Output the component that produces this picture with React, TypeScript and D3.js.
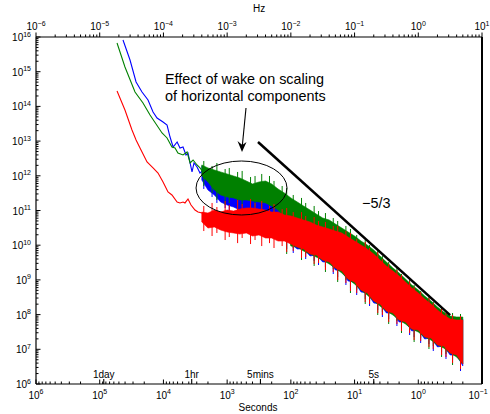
import React from 'react';
import * as d3 from 'd3';

// ---------- data (Hz, spectral power) ----------
// low-frequency part of each spectrum (read point by point)
const blueLowHz = [2.32e-5, 2.99e-5, 3.72e-5, 4.61e-5, 5.73e-5, 6.87e-5, 7.94e-5, 9.86e-5, 1.14e-4, 1.27e-4, 1.42e-4, 1.64e-4, 1.82e-4, 2.03e-4, 2.26e-4, 2.43e-4, 2.81e-4, 3.02e-4, 3.37e-4, 3.75e-4, 4.19e-4, 4.67e-4];
const blueLowVal = [8.2e15, 2.17e15, 5.05e14, 2.6e14, 1.53e14, 6.9e13, 4.63e13, 3.55e13, 2.91e13, 1.31e13, 6.76e12, 9.42e12, 6.33e12, 6.76e12, 3.98e12, 4.54e12, 1.29e12, 2.34e12, 1.79e12, 1.2e12, 1.47e12, 9.24e11];

const greenLowHz = [1.87e-5, 2.49e-5, 3.58e-5, 4.78e-5, 6.16e-5, 9.51e-5, 1.14e-4, 1.36e-4, 1.52e-4, 1.69e-4, 2.03e-4, 2.35e-4, 2.62e-4, 2.92e-4, 3.37e-4, 3.75e-4, 4.19e-4];
const greenLowVal = [6.71e15, 1.37e15, 2.6e14, 1.25e14, 5.65e13, 1.71e13, 1.23e13, 6.76e12, 6.33e12, 4.54e12, 3.98e12, 4.85e12, 2.34e12, 2.85e12, 2.05e12, 1.68e12, 1.29e12];

const redLowHz = [1.87e-5, 2.49e-5, 3.21e-5, 3.72e-5, 4.29e-5, 5.53e-5, 6.87e-5, 8.23e-5, 9.86e-5, 1.18e-4, 1.36e-4, 1.64e-4, 1.82e-4, 2.03e-4, 2.18e-4, 2.43e-4, 2.71e-4, 3.13e-4, 3.49e-4, 4.04e-4, 4.5e-4];
const redLowVal = [2.78e14, 7.88e13, 2.09e13, 1.08e13, 6.33e12, 2.5e12, 1.68e12, 1.2e12, 6.63e11, 3.41e11, 2.8e11, 1.76e11, 1.65e11, 1.76e11, 1.65e11, 2.15e11, 1.44e11, 1.03e11, 9.06e10, 8.48e10, 7.42e10];

// dense high-frequency part: upper / lower envelope of the scatter
const bandHz = [4.0e-4, 5.0e-4, 6.3e-4, 7.9e-4, 1.0e-3, 1.26e-3, 1.58e-3, 2.0e-3, 2.5e-3, 3.16e-3, 4.0e-3, 5.0e-3, 6.3e-3, 7.9e-3, 0.01, 0.0126, 0.0158, 0.02, 0.025, 0.0316, 0.04, 0.05, 0.063, 0.079, 0.1, 0.126, 0.158, 0.2, 0.25, 0.316, 0.4, 0.5, 0.63, 0.79, 1.0, 1.26, 1.58, 2.0, 2.5, 3.16, 4.0, 5.0];

const blueHi = [1.92e12, 1.47e12, 1.21e12, 1.055e12, 8.64e11, 7.57e11, 6.63e11, 5.81e11, 5.08e11, 5.08e11, 5.08e11, 4.45e11, 3.41e11, 2.62e11, 2.01e11, 1.54e11, 1.18e11, 9.0e10, 6.95e10, 5.69e10, 4.66e10, 3.58e10, 2.74e10, 2.1e10, 1.61e10, 1.15e10, 8.85e9, 6.38e9, 4.28e9, 2.87e9, 1.93e9, 1.38e9, 9.28e8, 6.24e8, 4.49e8, 3.01e8, 2.16e8, 1.45e8, 1.04e8, 7.98e7, 7.46e7, 7.46e7];
const blueLo = [7.57e11, 3.9e11, 2.8e11, 1.76e11, 1.44e11, 1.26e11, 1.03e11, 9.0e10, 8.45e10, 9.0e10, 7.94e10, 7.42e10, 7.94e10, 5.32e10, 1.08e10, 7.78e9, 7.78e9, 4.89e9, 5.22e9, 3.28e9, 3.28e9, 1.93e9, 1.81e9, 9.28e8, 8.7e8, 4.49e8, 4.19e8, 2.16e8, 2.02e8, 1.11e8, 1.11e8, 6.11e7, 6.11e7, 3.37e7, 3.6e7, 1.98e7, 2.12e7, 1.17e7, 1.24e7, 6.85e6, 6.85e6, 3.3e6];

const greenHi = [2.05e12, 1.68e12, 1.47e12, 1.29e12, 1.13e12, 9.87e11, 8.64e11, 7.09e11, 5.81e11, 6.63e11, 7.09e11, 5.81e11, 4.17e11, 3.2e11, 2.3e11, 1.76e11, 1.35e11, 1.03e11, 7.94e10, 6.08e10, 5.32e10, 4.08e10, 3.13e10, 2.4e10, 1.84e10, 1.32e10, 1.01e10, 7.28e9, 4.89e9, 3.28e9, 2.2e9, 1.58e9, 1.06e9, 7.13e8, 5.12e8, 3.44e8, 2.47e8, 1.66e8, 1.19e8, 9.11e7, 8.52e7, 8.52e7];
const greenLo = [9.87e11, 6.63e11, 3.9e11, 2.8e11, 2.45e11, 2.3e11, 2.01e11, 2.01e11, 1.88e11, 1.76e11, 1.65e11, 1.35e11, 1.03e11, 6.08e10, 9.45e9, 8.85e9, 6.81e9, 5.58e9, 4.57e9, 3.74e9, 2.87e9, 2.2e9, 1.58e9, 1.06e9, 7.62e8, 5.12e8, 3.67e8, 2.47e8, 1.77e8, 1.27e8, 9.73e7, 6.98e7, 5.36e7, 3.85e7, 3.15e7, 2.26e7, 1.85e7, 1.33e7, 1.09e7, 7.83e6, 6.0e6, 3.77e6];

const redHi = [9.0e10, 8.45e10, 1.03e11, 9.0e10, 1.03e11, 9.64e10, 1.1e11, 1.18e11, 1.18e11, 1.1e11, 1.03e11, 9.0e10, 9.0e10, 7.42e10, 6.95e10, 6.08e10, 5.32e10, 4.66e10, 3.82e10, 3.35e10, 2.93e10, 2.56e10, 2.25e10, 1.72e10, 1.32e10, 1.01e10, 7.78e9, 5.58e9, 3.74e9, 2.52e9, 1.81e9, 1.29e9, 8.7e8, 5.85e8, 4.19e8, 2.82e8, 2.02e8, 1.36e8, 9.73e7, 7.46e7, 6.98e7, 6.98e7];
const redLo = [4.66e10, 3.13e10, 3.35e10, 2.74e10, 2.4e10, 2.25e10, 2.1e10, 2.25e10, 1.84e10, 1.97e10, 1.61e10, 1.61e10, 1.32e10, 1.32e10, 1.08e10, 8.85e9, 7.78e9, 5.58e9, 5.22e9, 3.74e9, 3.28e9, 2.2e9, 1.81e9, 1.06e9, 8.7e8, 5.12e8, 4.19e8, 2.47e8, 2.02e8, 1.27e8, 1.11e8, 6.98e7, 6.11e7, 3.85e7, 3.6e7, 2.26e7, 2.12e7, 1.33e7, 1.24e7, 7.83e6, 6.85e6, 3.77e6];

// individual spikes sticking out of the dense band (frequency, tip values)
const spikeHz = [4.3e-4, 5.8e-4, 6.9e-4, 9.3e-4, 1.08e-3, 1.46e-3, 1.72e-3, 2.33e-3, 2.74e-3, 3.49e-3, 4.62e-3, 5.44e-3, 7.3e-3, 8.6e-3, 0.0109, 0.0147, 0.0171, 0.0232, 0.0272, 0.0349, 0.0463, 0.0543, 0.0731, 0.0862, 0.108, 0.147, 0.172, 0.231, 0.273, 0.343, 0.462, 0.545, 0.731, 0.86, 1.09, 1.47, 1.72, 2.32, 2.72, 3.45, 4.6];
const blueDownTip = [4.17e11, 2.45e11, 1.65e11, 1.18e11, 1.03e11, 8.45e10, 7.42e10, 6.95e10, 6.5e10, 6.5e10, 6.08e10, 5.69e10, 4.66e10, 7.78e9, 5.97e9, 5.22e9, 4.0e9, 3.5e9, 2.69e9, 2.36e9, 1.48e9, 1.21e9, 7.13e8, 5.85e8, 3.67e8, 2.82e8, 1.77e8, 1.36e8, 8.52e7, 7.46e7, 4.69e7, 4.1e7, 2.58e7, 2.26e7, 1.52e7, 1.42e7, 8.94e6, 8.36e6, 5.26e6, 4.92e6, 2.37e6];
const greenUpTip = [2.67e12, 1.92e12, 2.34e12, 1.57e12, 1.68e12, 1.29e12, 1.38e12, 9.24e11, 9.87e11, 1.13e12, 9.87e11, 7.09e11, 5.08e11, 4.45e11, 2.8e11, 2.3e11, 1.65e11, 1.35e11, 9.64e10, 8.45e10, 6.08e10, 4.98e10, 3.58e10, 2.93e10, 1.97e10, 1.41e10, 1.01e10, 6.81e9, 4.89e9, 3.28e9, 2.2e9, 1.48e9, 1.06e9, 7.13e8, 4.79e8, 3.21e8, 2.3e8, 1.55e8, 1.11e8, 1.11e8, 1.04e8];
const greenDownTip = [5.08e11, 3.2e11, 2.01e11, 1.44e11, 1.65e11, 1.18e11, 1.35e11, 1.1e11, 1.26e11, 1.03e11, 1.1e11, 9.0e10, 6.95e10, 5.58e9, 8.31e9, 3.74e9, 5.58e9, 2.52e9, 3.74e9, 1.69e9, 2.06e9, 8.7e8, 9.93e8, 4.19e8, 5.12e8, 2.02e8, 2.47e8, 9.73e7, 1.19e8, 5.36e7, 6.53e7, 2.95e7, 3.6e7, 1.62e7, 2.12e7, 1.02e7, 1.24e7, 6.0e6, 7.32e6, 3.53e6, 3.3e6];
const redUpTip = [1.35e11, 1.65e11, 1.26e11, 1.88e11, 1.44e11, 2.01e11, 1.54e11, 2.15e11, 1.65e11, 1.88e11, 1.35e11, 1.54e11, 1.1e11, 1.18e11, 9.0e10, 9.0e10, 6.95e10, 6.5e10, 4.98e10, 4.66e10, 3.58e10, 3.58e10, 2.56e10, 2.25e10, 1.51e10, 1.24e10, 8.31e9, 6.38e9, 4.0e9, 2.87e9, 1.93e9, 1.38e9, 9.28e8, 6.24e8, 4.49e8, 3.01e8, 2.16e8, 1.45e8, 1.11e8, 9.73e7, 9.11e7];
const redDownTip = [2.56e10, 1.84e10, 2.25e10, 1.41e10, 1.72e10, 1.15e10, 1.61e10, 1.08e10, 1.41e10, 9.45e9, 1.15e10, 8.31e9, 9.45e9, 6.38e9, 6.81e9, 4.28e9, 4.57e9, 2.87e9, 3.07e9, 1.93e9, 1.69e9, 9.93e8, 8.14e8, 4.79e8, 4.19e8, 2.3e8, 2.02e8, 1.11e8, 9.73e7, 6.11e7, 5.36e7, 3.37e7, 2.95e7, 1.85e7, 1.73e7, 1.17e7, 1.02e7, 6.85e6, 6.0e6, 4.03e6, 2.71e6];

// -5/3 reference line (Hz, value)
const slopeHz = [3.05e-3, 3.16];
const slopeVal = [9.4e12, 9.7e7];

// wake ellipse bounds (Hz, value)
const ellipseHz = [3.25e-4, 8.7e-3];
const ellipseVal = [7.42e10, 2.67e12];

// axis ticks (exponents) and time markers
const hzTickExp = [-6, -5, -4, -3, -2, -1, 0, 1];
const secTickExp = [6, 5, 4, 3, 2, 1, 0, -1];
const yTickExp = [6, 7, 8, 9, 10, 11, 12, 13, 14, 15, 16];
const markerLabels = ['1day', '1hr', '5mins', '5s'];
const markerSeconds = [86400, 3600, 300, 5];

const BLUE = '#0000ff';
const GREEN = '#008000';
const RED = '#ff0000';
const FONT = '"Liberation Sans", Arial, Helvetica, sans-serif';

const L = 36, R = 482, T = 37, B = 384;

function expLabel(e: number) {
  return e < 0 ? '\u2212' + Math.abs(e) : String(e);
}

export default function App() {
  const x = d3.scaleLog().domain([1e-6, 10]).range([L, R]);
  const xs = d3.scaleLog().domain([1e6, 0.1]).range([L, R]);
  const y = d3.scaleLog().domain([1e6, 1e16]).range([B, T]);

  const line = d3.line<number[]>().x(d => x(d[0])).y(d => y(d[1]));
  const mkLine = (hz: number[], v: number[]) => line(hz.map((h, i) => [h, v[i]])) || '';
  const mkArea = (hi: number[], lo: number[]) =>
    d3.area<number>().x(i => x(bandHz[i])).y0(i => y(lo[i])).y1(i => y(hi[i]))(bandHz.map((_, i) => i)) || '';
  const mkSpikes = (hi: number[], lo: number[], tips: number[]) =>
    spikeHz.map((f, i) => {
      const base = Math.pow(hi[i] * hi[i + 1] * lo[i] * lo[i + 1], 0.25);
      return `M${x(f)},${y(base)}L${x(f)},${y(tips[i])}`;
    }).join('');

  // tick positions
  const hzTicks: { p: number; major: boolean }[] = [];
  for (let e = -6; e <= 0; e++) for (let m = 1; m <= 9; m++) hzTicks.push({ p: x(m * Math.pow(10, e)), major: m === 1 });
  hzTicks.push({ p: x(10), major: true });
  const secTicks: { p: number; major: boolean }[] = [];
  for (let e = -1; e <= 5; e++) for (let m = 1; m <= 9; m++) secTicks.push({ p: xs(m * Math.pow(10, e)), major: m === 1 });
  secTicks.push({ p: xs(1e6), major: true });
  const yTicks: { p: number; major: boolean }[] = [];
  for (let e = 6; e <= 15; e++) for (let m = 1; m <= 9; m++) yTicks.push({ p: y(m * Math.pow(10, e)), major: m === 1 });
  yTicks.push({ p: y(1e16), major: true });

  const ex0 = x(ellipseHz[0]), ex1 = x(ellipseHz[1]);
  const ey0 = y(ellipseVal[1]), ey1 = y(ellipseVal[0]);

  const ax = 246, ay = 108, tx = 242, ty = 152;

  return (
    <svg width={490} height={414} style={{ position: 'absolute', left: 0, top: 0, background: '#fff' }} fontFamily={FONT}>
      <rect x={0} y={0} width={490} height={414} fill="#fff" />
      <defs>
        <clipPath id="plot"><rect x={L} y={T} width={R - L} height={B - T} /></clipPath>
      </defs>
      <g clipPath="url(#plot)">
        <path d={mkSpikes(blueHi, blueLo, blueDownTip)} stroke={BLUE} strokeWidth={1} fill="none" />
        <path d={mkArea(blueHi, blueLo)} fill={BLUE} stroke={BLUE} strokeWidth={0.6} />
        <path d={mkLine(blueLowHz, blueLowVal)} fill="none" stroke={BLUE} strokeWidth={1.1} />
        <path d={mkSpikes(greenHi, greenLo, greenUpTip)} stroke={GREEN} strokeWidth={1} fill="none" />
        <path d={mkSpikes(greenHi, greenLo, greenDownTip)} stroke={GREEN} strokeWidth={1} fill="none" />
        <path d={mkArea(greenHi, greenLo)} fill={GREEN} stroke={GREEN} strokeWidth={0.6} />
        <path d={mkLine(greenLowHz, greenLowVal)} fill="none" stroke={GREEN} strokeWidth={1.1} />
        <path d={mkSpikes(redHi, redLo, redUpTip)} stroke={RED} strokeWidth={1} fill="none" />
        <path d={mkSpikes(redHi, redLo, redDownTip)} stroke={RED} strokeWidth={1} fill="none" />
        <path d={mkArea(redHi, redLo)} fill={RED} stroke={RED} strokeWidth={0.6} />
        <path d={mkLine(redLowHz, redLowVal)} fill="none" stroke={RED} strokeWidth={1.1} />
      </g>

      {/* ellipse */}
      <ellipse cx={(ex0 + ex1) / 2} cy={(ey0 + ey1) / 2} rx={(ex1 - ex0) / 2} ry={(ey1 - ey0) / 2} fill="none" stroke="#000" strokeWidth={1} />
      {/* -5/3 line */}
      <line x1={x(slopeHz[0])} y1={y(slopeVal[0])} x2={x(slopeHz[1])} y2={y(slopeVal[1])} stroke="#000" strokeWidth={2.5} />
      <text x={362} y={208} fontSize={14.4} fill="#000">{'\u22125/3'}</text>

      {/* annotation */}
      <text x={165} y={84} fontSize={14.4} fill="#000">Effect of wake on scaling</text>
      <text x={165} y={101} fontSize={14.4} fill="#000">of horizontal components</text>
      <line x1={ax} y1={ay} x2={tx} y2={ty - 3} stroke="#000" strokeWidth={1.1} />
      <path d={`M${tx},${ty} L${tx - 4.5},${ty - 11} L${tx + 0.3},${ty - 7} L${tx + 4.5},${ty - 10} Z`} fill="#000" />

      {/* frame */}
      <line x1={L} y1={T} x2={R} y2={T} stroke="#000" strokeWidth={1.2} />
      <line x1={L} y1={B} x2={R} y2={B} stroke="#000" strokeWidth={1.2} />
      <line x1={L} y1={T} x2={L} y2={B} stroke="#000" strokeWidth={1.2} />
      <line x1={R} y1={T} x2={R} y2={B} stroke="#000" strokeWidth={2} />

      {/* top Hz ticks */}
      {hzTicks.map((t, i) => (
        <line key={'ht' + i} x1={t.p} x2={t.p} y1={T} y2={T - (t.major ? 4.5 : 2.5)} stroke="#000" strokeWidth={1} />
      ))}
      {hzTickExp.map(e => (
        <text key={'hl' + e} x={x(Math.pow(10, e))} y={30} fontSize={10} textAnchor="middle">
          10<tspan dy={-4.5} fontSize={7}>{expLabel(e)}</tspan>
        </text>
      ))}
      <text x={253} y={12} fontSize={10}>Hz</text>

      {/* bottom seconds ticks */}
      {secTicks.map((t, i) => (
        <line key={'st' + i} x1={t.p} x2={t.p} y1={B} y2={B - (t.major ? 4.5 : 2.5)} stroke="#000" strokeWidth={1} />
      ))}
      {secTickExp.map(e => (
        <text key={'sl' + e} x={Math.min(xs(Math.pow(10, e)), 478)} y={398.5} fontSize={10} textAnchor="middle">
          10<tspan dy={-4.5} fontSize={7}>{expLabel(e)}</tspan>
        </text>
      ))}
      <text x={258} y={411} fontSize={10} textAnchor="middle">Seconds</text>
      {markerSeconds.map((s, i) => (
        <g key={'m' + i}>
          <line x1={xs(s)} x2={xs(s)} y1={B} y2={B - 5} stroke="#000" strokeWidth={1.1} />
          <text x={xs(s)} y={378} fontSize={10} textAnchor="middle">{markerLabels[i]}</text>
        </g>
      ))}

      {/* left ticks */}
      {yTicks.map((t, i) => (
        <line key={'yt' + i} x1={L} x2={L + (t.major ? 4.5 : 2.5)} y1={t.p} y2={t.p} stroke="#000" strokeWidth={1} />
      ))}
      {yTickExp.map(e => (
        <text key={'yl' + e} x={31} y={y(Math.pow(10, e)) + 4} fontSize={10} textAnchor="end">
          10<tspan dy={-4.5} fontSize={7}>{expLabel(e)}</tspan>
        </text>
      ))}
    </svg>
  );
}
